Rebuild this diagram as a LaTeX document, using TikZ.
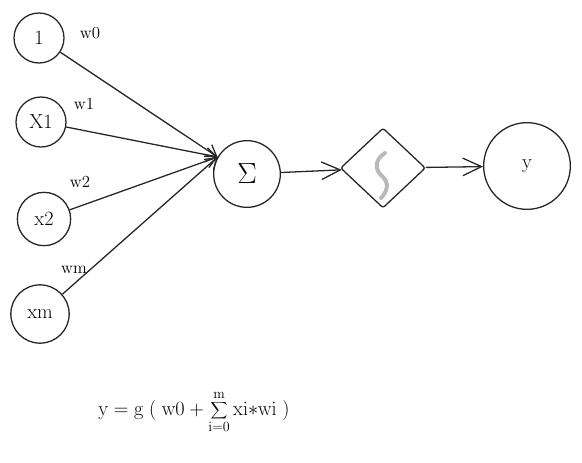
\documentclass[tikz,border=0pt]{standalone}
\usepackage{tikz}
\usetikzlibrary{shapes.geometric, arrows.meta, positioning}
\tikzset{
    font=\LARGE,
    >={Straight Barb[length=9pt, width=12pt]},
    % Shapes
    unit/.style={circle, line width=1.1pt, draw=black!85, minimum size=1.5cm, inner sep=0pt},
    act/.style={diamond, line width=1.1pt, draw=black!85, rounded corners=2pt,
                minimum width=2.55cm, minimum height=2.4cm, inner sep=0pt},
    % Flow & Labels
    flow/.style={->, line width=1.1pt, black!85},
    bigflow/.style={flow, >={Straight Barb[length=16pt, width=15pt]}},
    wlbl/.style={font=\Large, inner sep=1pt}
}

\begin{document}
\begin{tikzpicture}[x=0.03cm, y=-0.03cm]
\useasboundingbox (0,0) rectangle (582,462);

\node[unit] (one) at (39,38) {1};
\node[unit] (x1) at (41,122) {X1};
\node[unit, minimum size=1.6cm] (x2) at (44,219) {x2};
\node[unit, minimum size=1.75cm] (xm) at (40,314) {xm};
\node[unit, minimum size=2cm, font=\Huge] (sig) at (247,174) {$\Sigma$};
\node[act] (g) at (383,168) {};
\node[unit, minimum size=2.6cm] (out) at (527,166) {y};

\node[wlbl] (w0) at (90,33) {w0};
\node[wlbl] (w1) at (84,104) {w1};
\node[wlbl] (w2) at (80,182) {w2};
\node[wlbl] (wm) at (74,270) {wm};

% grey squiggle of the activation
\draw[gray!55, line width=3.4pt, line cap=round]
    (385,153) .. controls (374,160) and (375,170) .. (382,176)
    .. controls (390,183) and (387,192) .. (381,198);

\foreach \src in {one, x1, x2, xm}
    \draw[flow] (\src) -- (sig.150);
\draw[bigflow] (sig) -- (g);
\draw[bigflow] (g) -- (out);

\node (eq) at (194,412)
    {$\mathrm{y} = \mathrm{g}\;(\;\mathrm{w0} + \displaystyle\sum_{\mathrm{i}=0}^{\mathrm{m}} \mathrm{xi{*}wi}\;)$};

\end{tikzpicture}
\end{document}
